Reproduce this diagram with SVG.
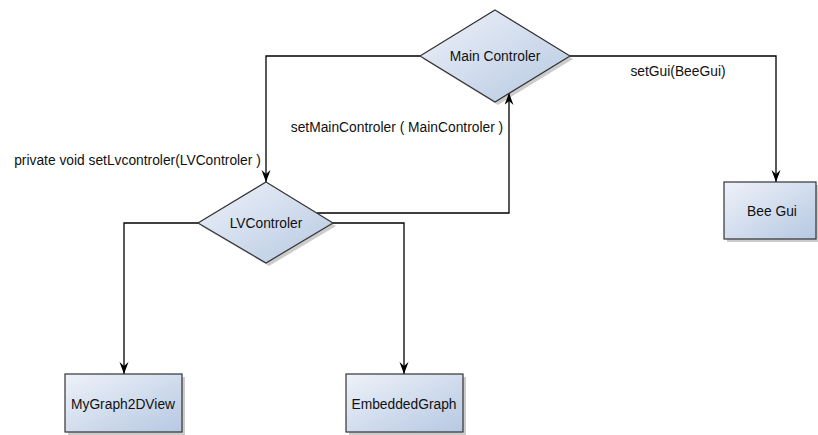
<svg xmlns="http://www.w3.org/2000/svg" width="818" height="435" viewBox="0 0 818 435">
<defs>
<linearGradient id="g" x1="0" y1="0" x2="1" y2="1">
<stop offset="0" stop-color="#eef2f9"/>
<stop offset="1" stop-color="#b6c8e2"/>
</linearGradient>
<marker id="arr" markerWidth="14" markerHeight="10" refX="12" refY="4.5" orient="auto" markerUnits="userSpaceOnUse">
<path d="M0,0 L12,4.5 L0,9 L4,4.5 z" fill="#000"/>
</marker>
</defs>
<style>
.shape{fill:url(#g);stroke:#333;stroke-width:1.2}
.shadow{fill:#000;opacity:0.2}
.lbl{font-family:"Liberation Sans",Arial,sans-serif;font-size:13.8px;fill:#111}
.mid{text-anchor:middle}
.edge{fill:none;stroke:#000;stroke-width:1.3;marker-end:url(#arr)}
</style>
<g id="connectors">
<path class="edge" d="M420,56 H266 V182"/>
<path class="edge" d="M570,56 H776 V182"/>
<path class="edge" d="M317,213 H509 V93"/>
<path class="edge" d="M198,223 H124 V374"/>
<path class="edge" d="M333,223 H404 V374"/>
<text class="lbl mid" x="137.5" y="165">private void setLvcontroler(LVControler )</text>
<text class="lbl mid" x="397" y="132">setMainControler ( MainControler )</text>
<text class="lbl mid" x="678" y="76">setGui(BeeGui)</text>
</g>
<g id="main-controler">
<polygon class="shadow" points="498,13 573,59 498,105 423,59"/>
<polygon class="shape" points="495,10 570,56 495,102 420,56"/>
<text class="lbl mid" x="495" y="61">Main Controler</text>
</g>
<g id="lv-controler">
<polygon class="shadow" points="269,185 336,226 269,266 201,226"/>
<polygon class="shape" points="266,182 333,223 266,263 198,223"/>
<text class="lbl mid" x="266" y="228">LVControler</text>
</g>
<g id="bee-gui">
<rect class="shadow" x="727" y="185" width="92" height="57"/>
<rect class="shape" x="724" y="182" width="92" height="57"/>
<text class="lbl mid" x="772" y="216">Bee Gui</text>
</g>
<g id="mygraph2dview">
<rect class="shadow" x="68" y="377" width="117" height="58"/>
<rect class="shape" x="65" y="374" width="117" height="58"/>
<text class="lbl mid" x="123" y="409">MyGraph2DView</text>
</g>
<g id="embeddedgraph">
<rect class="shadow" x="349" y="377" width="117" height="58"/>
<rect class="shape" x="346" y="374" width="117" height="58"/>
<text class="lbl mid" x="404" y="409">EmbeddedGraph</text>
</g>
</svg>
